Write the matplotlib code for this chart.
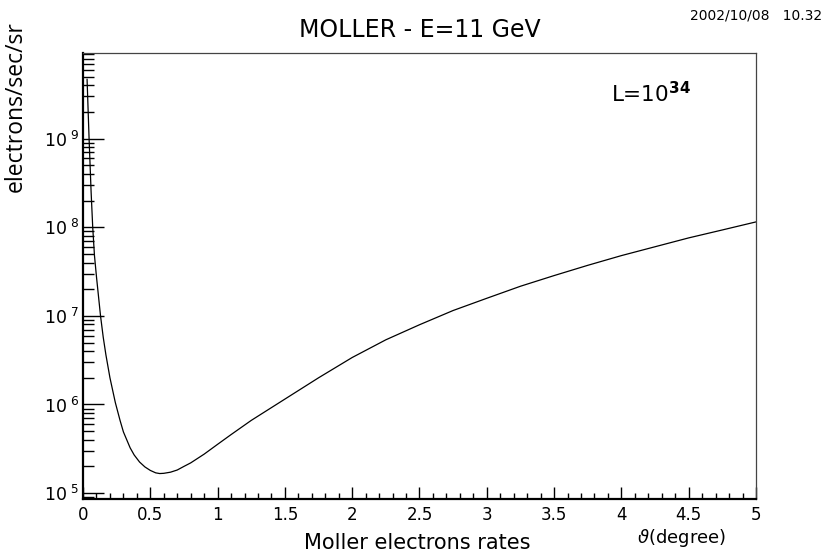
import numpy as np
import matplotlib
matplotlib.use('Agg')
import matplotlib.pyplot as plt
from matplotlib.ticker import FixedLocator, FuncFormatter, MultipleLocator, NullFormatter

plt.rcParams['font.family'] = ['DejaVu Sans']
plt.rcParams['mathtext.fontset'] = 'dejavusans'

# 散射角 (度) 与电子计数率 (electrons/sec/sr)
theta = [0.03, 0.045, 0.06, 0.072, 0.085, 0.1, 0.13, 0.15, 0.17, 0.2, 0.24, 0.275,
         0.3, 0.35, 0.38, 0.42, 0.46, 0.5, 0.54, 0.57, 0.6, 0.65, 0.7, 0.75, 0.8,
         0.9, 1.0, 1.1, 1.25, 1.5, 1.75, 2.0, 2.25, 2.5, 2.75, 3.0, 3.25, 3.5,
         3.75, 4.0, 4.25, 4.5, 4.75, 5.0]
rate = [4.68e9, 1.0e9, 2.51e8, 1.0e8, 4.79e7, 2.75e7, 1.0e7, 5.75e6, 3.63e6,
        2.0e6, 1.05e6, 6.61e5, 4.9e5, 3.24e5, 2.69e5, 2.24e5, 1.97e5, 1.80e5,
        1.69e5, 1.66e5, 1.67e5, 1.72e5, 1.82e5, 2.0e5, 2.19e5, 2.75e5, 3.55e5,
        4.57e5, 6.61e5, 1.15e6, 2.0e6, 3.39e6, 5.37e6, 7.94e6, 1.15e7, 1.58e7,
        2.16e7, 2.85e7, 3.72e7, 4.79e7, 6.03e7, 7.59e7, 9.33e7, 1.15e8]

y_decades = [1e5, 1e6, 1e7, 1e8, 1e9]
x_ticks = [0, 0.5, 1, 1.5, 2, 2.5, 3, 3.5, 4, 4.5, 5]

fig = plt.figure(figsize=(8.27, 5.57), dpi=100)
ax = fig.add_axes([0.1004, 0.104, 0.8137, 0.801])

ax.plot(theta, rate, color='black', linewidth=0.9)

ax.set_yscale('log')
ax.set_xlim(0, 5)
ax.set_ylim(8.55e4, 9.3e9)

# 坐标轴样式
ax.spines['left'].set_linewidth(1.6)
ax.spines['bottom'].set_linewidth(1.6)
for s in ['top', 'right']:
    ax.spines[s].set_linewidth(0.9)
    ax.spines[s].set_color('#444444')

ax.xaxis.set_major_locator(FixedLocator(x_ticks))
ax.xaxis.set_minor_locator(MultipleLocator(0.1))
ax.xaxis.set_major_formatter(FuncFormatter(lambda v, p: f'{v:g}'))
ax.tick_params(axis='x', which='major', direction='in', length=9, width=1.0,
               labelsize=12, pad=5, top=False)
ax.tick_params(axis='x', which='minor', direction='in', length=4.5, width=1.0, top=False)

ax.yaxis.set_major_locator(FixedLocator(y_decades))
ax.yaxis.set_major_formatter(FuncFormatter(lambda v, p: f'10$^{{\\ {int(round(np.log10(v)))}}}$'))
ax.yaxis.set_minor_formatter(NullFormatter())
ax.tick_params(axis='y', which='major', direction='in', length=15, width=1.0,
               labelsize=12.5, pad=3, right=False)
ax.tick_params(axis='y', which='minor', direction='in', length=8, width=1.0, right=False)

ax.set_ylabel('electrons/sec/sr', fontsize=16.5, family=['Open Sans', 'DejaVu Sans'])
ax.yaxis.set_label_coords(-0.082, 0.88)

ax.text(0.5, 1.036, 'MOLLER - E=11 GeV', transform=ax.transAxes, ha='center',
        va='baseline', fontsize=17)
ax.text(0.785, 0.89, 'L=10$^{\\mathbf{34}}$', transform=ax.transAxes, ha='left',
        va='baseline', fontsize=15.5)
ax.text(0.955, -0.063, '$\\vartheta$(degree)', transform=ax.transAxes, ha='right',
        va='top', fontsize=13)

fig.text(0.505, 0.008, 'Moller electrons rates', ha='center', va='bottom', fontsize=15)
fig.text(0.994, 0.985, '2002/10/08   10.32', ha='right', va='top', fontsize=10)

fig.savefig('out.png', dpi=100)
